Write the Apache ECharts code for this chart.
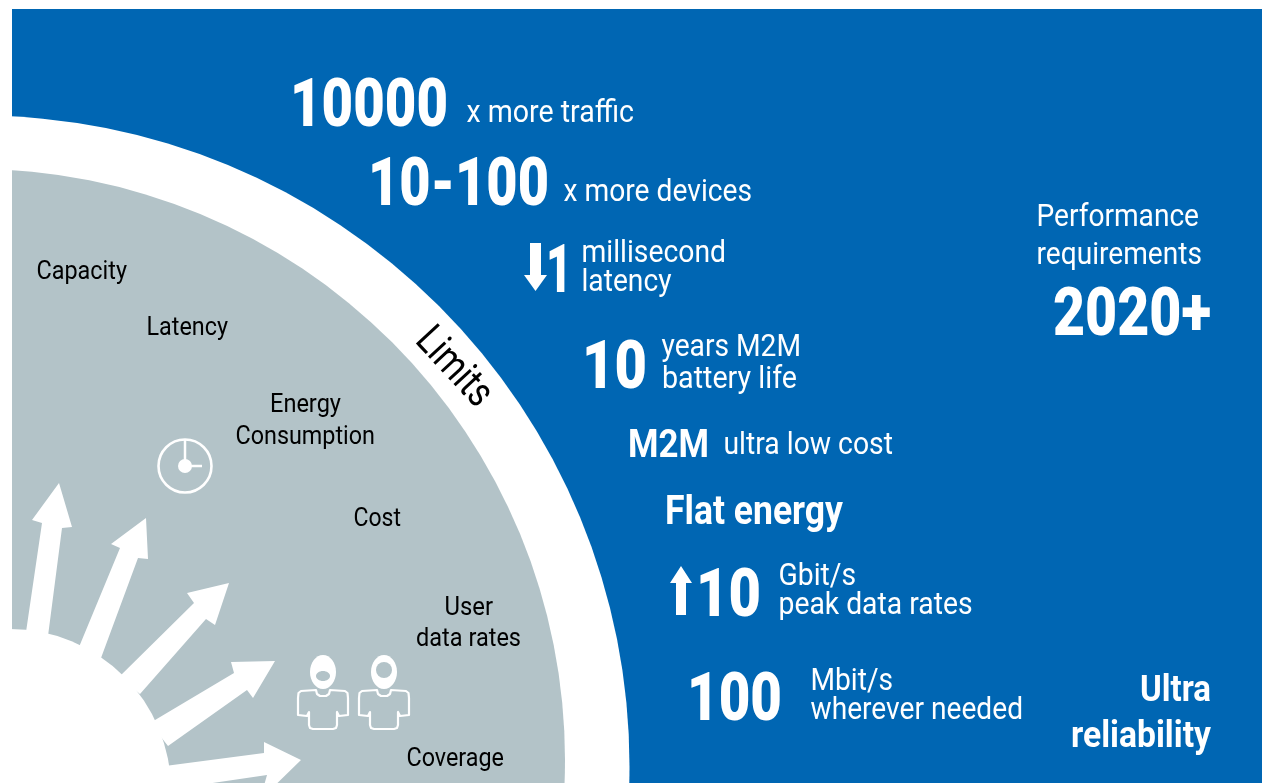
<!DOCTYPE html>
<html><head><meta charset="utf-8">
<style>html,body{margin:0;padding:0;background:#fff}#c{width:1262px;height:783px}</style>
<script src="https://cdn.jsdelivr.net/npm/echarts@6/dist/echarts.min.js"></script>
</head><body><div id="c"></div>
<script>
// Content of the infographic
const bigNumbers = ['10000', '10-100', '1', '10', '10', '100', '2020+'];
const boldPhrases = ['M2M', 'Flat energy', 'Ultra', 'reliability'];
const requirementTexts = ['x more traffic', 'x more devices', 'millisecond', 'latency', 'years M2M', 'battery life',
  'ultra low cost', 'Gbit/s', 'peak data rates', 'Mbit/s', 'wherever needed', 'Performance', 'requirements'];
const limitCategories = ['Capacity', 'Latency', 'Energy', 'Consumption', 'Cost', 'User', 'data rates', 'Coverage'];
const limitTitle = 'Limits';

// Layout, kept apart from the content: [x, baseline, target width, font size]
const BLUE = '#0066b3', GREY = '#b3c3c8', WHITE = '#fff', BLACK = '#000';
const bigLayout = [[290,125,158,67],[368,204,181,67],[546,291,26,67],[582,387,65,67],[696,615,65,67],[687,719,95,67],[1053,334,158,67]];
const boldLayout = [[628,457,81,38],[665,524,178,40],[1140,701,71,36],[1071,747,140,36]];
const reqLayout = [[466.5,122,167.5,31],[563.5,201,188.5,31],[581.5,262,144.5,31],[581.5,291,90,31],[661.5,356,139.5,31],[662,388,135,31],
  [723.5,454,169.5,31],[778.5,585,77.5,31],[778.5,614,194,31],[810.5,690,82.5,31],[810.5,719,212.5,31],[1036.5,226,162.5,31],[1036.5,264,165.5,31]];
const limitLayout = [[36.5,279,90.5,25],[146.5,335,81.5,25],[270,412,71,25],[235.5,444,139.5,25],[353.5,526,47.5,25],[444.5,615,48.5,25],[416,646,105,25],[406.5,766,97.5,25]];

const ctx = document.createElement('canvas').getContext('2d');
function label(t, l, fill, weight) {
  const font = (weight || 400) + ' ' + l[3] + 'px Roboto';
  ctx.font = font;
  return {
    type: 'text', x: l[0], y: l[1] - 0.24 * l[3], scaleX: l[2] / ctx.measureText(t).width,
    style: { text: t, fill: fill, font: font, textAlign: 'left', textVerticalAlign: 'middle' }
  };
}
const poly = pts => ({ type: 'polygon', shape: { points: pts }, style: { fill: WHITE } });
const arrowShapes = [
  [[26,632],[42,523],[32,520],[59,483],[72,527],[62,528],[48,636]],
  [[79,647],[120,548],[111,544],[146,518],[148,559],[138,558],[101,658]],
  [[119,677],[194,603],[187,593],[229,583],[215,625],[206,619],[140,694]],
  [[150,723],[234,673],[231,662],[275,661],[253,698],[247,690],[168,746]],
  [[165,766],[264,753],[264,742],[301,760],[260,800],[267,775],[165,790]],
  [[670,583],[681,566],[692,583],[686,583],[686,615],[676,615],[676,583]],
  [[524,275],[530,275],[530,243],[541,243],[541,275],[547,275],[535.5,291]]
];
const bodyOutline = [[-7,690],[-6,694],[-3,696],[3,696],[6,694],[7,690],[22,691],[24.5,693],[25,698],[25,715],[16,716],[14,712],[14,725],[13,728],[10,729],
  [-10,729],[-13,728],[-14,725],[-14,712],[-16,716],[-25,715],[-25,698],[-24.5,693],[-22,691]];
function person(cx, holeEl) {
  return [
    { type: 'ellipse', shape: { cx: cx, cy: 672, rx: 13, ry: 17 }, style: { fill: WHITE } },
    holeEl,
    { type: 'polygon', shape: { points: bodyOutline.map(p => [cx + p[0], p[1]]) }, style: { fill: 'none', stroke: WHITE, lineWidth: 2.2, lineJoin: 'round' } }
  ];
}

ctx.font = '400 42px Roboto';
const limitsScale = 92 / ctx.measureText(limitTitle).width;

const els = [
  { type: 'rect', shape: { x: 12, y: 9, width: 1250, height: 774 }, style: { fill: BLUE } },
  { type: 'circle', shape: { cx: -21, cy: 766, r: 650.5 }, style: { fill: WHITE } },
  { type: 'circle', shape: { cx: -26, cy: 760, r: 591 }, style: { fill: GREY } },
  { type: 'circle', shape: { cx: 10, cy: 790, r: 161 }, style: { fill: WHITE } },
  ...arrowShapes.map(poly),
  { type: 'rect', shape: { x: 0, y: 0, width: 12, height: 783 }, style: { fill: WHITE } },
  { type: 'circle', shape: { cx: 185, cy: 466, r: 26.5 }, style: { fill: 'none', stroke: WHITE, lineWidth: 2.6 } },
  { type: 'circle', shape: { cx: 185, cy: 466, r: 7 }, style: { fill: WHITE } },
  { type: 'line', shape: { x1: 185, y1: 440, x2: 185, y2: 466 }, style: { stroke: WHITE, lineWidth: 2.5 } },
  { type: 'line', shape: { x1: 185, y1: 466, x2: 202, y2: 466 }, style: { stroke: WHITE, lineWidth: 2.5 } },
  ...person(323, { type: 'ellipse', shape: { cx: 323, cy: 676, rx: 7, ry: 5 }, style: { fill: GREY } }),
  ...person(384, { type: 'circle', shape: { cx: 384, cy: 670, r: 8 }, style: { fill: GREY } }),
  ...bigNumbers.map((t, i) => label(t, bigLayout[i], WHITE, 900)),
  ...boldPhrases.map((t, i) => label(t, boldLayout[i], WHITE, 700)),
  ...requirementTexts.map((t, i) => label(t, reqLayout[i], WHITE, 400)),
  ...limitCategories.map((t, i) => label(t, limitLayout[i], BLACK, 400)),
  { type: 'text', x: 453, y: 368, rotation: -47 * Math.PI / 180, scaleX: limitsScale,
    style: { text: limitTitle, fill: BLACK, font: '400 42px Roboto', textAlign: 'center', textVerticalAlign: 'middle' } }
];

const chart = echarts.init(document.getElementById('c'), null, { renderer: 'canvas', width: 1262, height: 783 });
chart.setOption({ animation: false, backgroundColor: '#fff', graphic: { elements: els } });
</script></body></html>
